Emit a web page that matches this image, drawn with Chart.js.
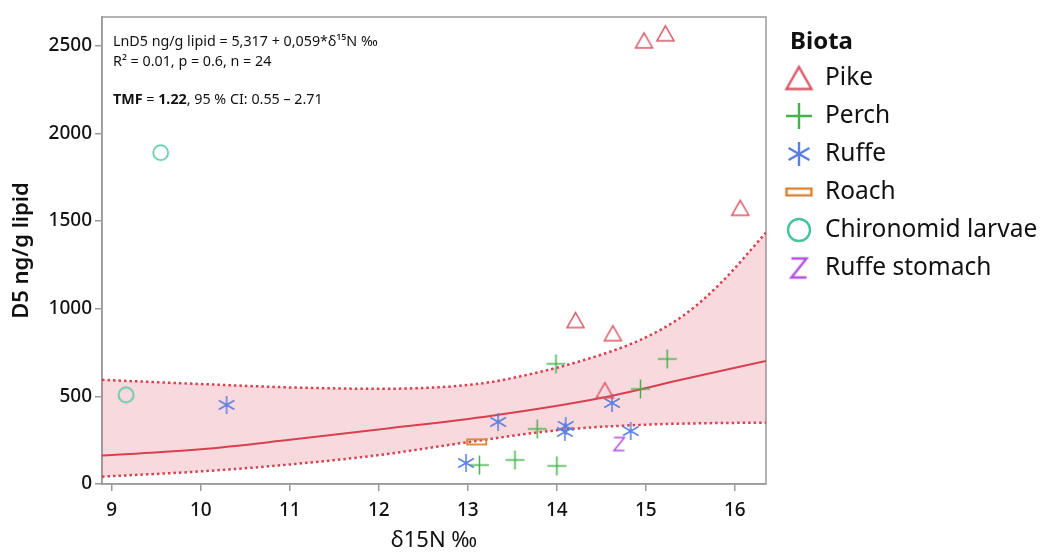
<!DOCTYPE html>
<html>
<head>
<meta charset="utf-8">
<script src="https://cdn.jsdelivr.net/npm/chart.js@4.4.1/dist/chart.umd.min.js"></script>
<style>
    html, body { margin: 0; padding: 0; background: #fff; }
    #wrap { width: 1046px; height: 554px; }
</style>
</head>
<body>
<div id="wrap"><canvas id="chart" width="1046" height="554"></canvas></div>
<script>
// Values
const pikeX = [14.98, 15.22, 16.06, 14.21, 14.63, 14.54];
const pikeY = [2530, 2570, 1575, 935, 860, 535];
const perchX = [13.99, 15.24, 14.94, 13.78, 13.13, 13.53, 14.00];
const perchY = [685, 713, 542, 314, 108, 137, 103];
const ruffeX = [10.29, 13.34, 14.10, 14.09, 14.62, 14.83, 12.98];
const ruffeY = [451, 354, 331, 297, 462, 302, 120];
const roachX = [13.10];
const roachY = [240];
const chiroX = [9.55, 9.16];
const chiroY = [1889, 508];
const stomachX = [14.70];
const stomachY = [228];

// regression curve and 95 % band, read at a few x positions
const fitX = [8.89, 10, 11.0, 12.12, 13.25, 14.48, 15.42, 16.35];
const fitY = [162, 198, 252, 318, 388, 489, 597, 702];
const upperX = [8.89, 10, 11.06, 12.0, 13.13, 13.73, 14.26, 14.93, 15.42, 15.83, 16.35];
const upperY = [594, 570, 550, 543, 572, 630, 700, 820, 960, 1140, 1433];
const lowerX = [8.89, 10, 11.06, 12.0, 13.02, 14.03, 14.93, 15.6, 16.35];
const lowerY = [42, 72, 114, 165, 240, 308, 337, 346, 350];

const xTicks = [9, 10, 11, 12, 13, 14, 15, 16];
const yTicks = [0, 500, 1000, 1500, 2000, 2500];

const FONT = "'Noto Sans', 'DejaVu Sans', sans-serif";
const INK = '#111';
const AXIS = '#9a9a9a';
const RED = '#d9404f';

function pts(xs, ys) {
    return xs.map((x, i) => ({ x: x, y: ys[i] }));
}

// Draw one marker glyph into a small canvas (used as a pointStyle image)
function marker(kind, color, size, lw) {
    const pad = Math.ceil(lw) + 1;
    const c = document.createElement('canvas');
    c.width = c.height = size + pad * 2;
    const g = c.getContext('2d');
    const m = c.width / 2;
    const r = size / 2;
    g.strokeStyle = color;
    g.lineWidth = lw;
    g.beginPath();
    if (kind === 'triangle') {
        const hh = r * 0.88;
        g.moveTo(m, m - hh);
        g.lineTo(m + r, m + hh);
        g.lineTo(m - r, m + hh);
        g.closePath();
    } else if (kind === 'plus') {
        g.moveTo(m - r, m); g.lineTo(m + r, m);
        g.moveTo(m, m - r); g.lineTo(m, m + r);
    } else if (kind === 'asterisk') {
        [90, 30, -30].forEach(a => {
            const dx = r * Math.cos(a * Math.PI / 180);
            const dy = r * Math.sin(a * Math.PI / 180);
            g.moveTo(m - dx, m - dy);
            g.lineTo(m + dx, m + dy);
        });
    } else if (kind === 'rect') {
        g.rect(m - r, m - r * 0.27, 2 * r, r * 0.54);
    } else if (kind === 'circle') {
        g.arc(m, m, r, 0, Math.PI * 2);
    } else if (kind === 'z') {
        const zr = r * 0.8;
        g.moveTo(m - zr, m - r); g.lineTo(m + zr, m - r);
        g.lineTo(m - zr, m + r); g.lineTo(m + zr, m + r);
    }
    g.stroke();
    return c;
}

const groups = [
    { label: 'Pike', kind: 'triangle', color: '#dc5563', size: 17, big: 25, xs: pikeX, ys: pikeY },
    { label: 'Perch', kind: 'plus', color: '#45b04c', size: 19, big: 26, xs: perchX, ys: perchY },
    { label: 'Ruffe', kind: 'asterisk', color: '#5a7fe0', size: 18, big: 24, xs: ruffeX, ys: ruffeY },
    { label: 'Roach', kind: 'rect', color: '#d8802f', size: 19, big: 25, xs: roachX, ys: roachY },
    { label: 'Chironomid larvae', kind: 'circle', color: '#45c49a', size: 15, big: 22, xs: chiroX, ys: chiroY },
    { label: 'Ruffe stomach', kind: 'z', color: '#b24ee0', size: 13, big: 19, xs: stomachX, ys: stomachY }
];

groups.forEach(gr => {
    gr.img = marker(gr.kind, gr.color, gr.size, gr.kind === 'rect' ? 1.8 : 1.5);
    gr.legendImg = marker(gr.kind, gr.color, gr.big, 2.4);
});

const scatterSets = groups.map(gr => ({
    label: gr.label,
    data: pts(gr.xs, gr.ys),
    pointStyle: gr.img,
    showLine: false
}));

const curveSets = [
    {
        label: 'fit',
        type: 'line',
        data: pts(fitX, fitY),
        borderColor: RED,
        borderWidth: 2,
        pointRadius: 0,
        cubicInterpolationMode: 'monotone',
        fill: false
    },
    {
        label: 'upper',
        type: 'line',
        data: pts(upperX, upperY),
        borderColor: RED,
        borderWidth: 2.5,
        borderDash: [2.5, 3],
        pointRadius: 0,
        cubicInterpolationMode: 'monotone',
        backgroundColor: 'rgba(220, 70, 90, 0.2)',
        fill: groups.length + 2
    },
    {
        label: 'lower',
        type: 'line',
        data: pts(lowerX, lowerY),
        borderColor: RED,
        borderWidth: 2.5,
        borderDash: [2.5, 3],
        pointRadius: 0,
        cubicInterpolationMode: 'monotone',
        fill: false
    }
];

// Box round the plot area
const framePlugin = {
    id: 'frame',
    beforeDatasetsDraw(chart) {
        const a = chart.chartArea;
        const ctx = chart.ctx;
        ctx.save();
        ctx.strokeStyle = AXIS;
        ctx.lineWidth = 1.5;
        ctx.strokeRect(a.left, a.top, a.right - a.left, a.bottom - a.top);
        ctx.restore();
    }
};

// Regression note in the top-left corner
const notePlugin = {
    id: 'note',
    afterDraw(chart) {
        const ctx = chart.ctx;
        const x0 = 113;
        const size = '14.3px ';
        ctx.save();
        ctx.fillStyle = '#111';
        ctx.textBaseline = 'middle';
        ctx.font = size + FONT;
        ctx.fillText('LnD5 ng/g lipid = 5,317 + 0,059*δ¹⁵N ‰', x0, 42);
        ctx.fillText('R² = 0.01, p = 0.6, n = 24', x0, 62);
        const parts = [
            ['TMF', true], [' = ', false], ['1.22', true], [', 95 % CI: 0.55 – 2.71', false]
        ];
        let x = x0;
        parts.forEach(([t, bold]) => {
            ctx.font = (bold ? 'bold ' : '') + size + FONT;
            ctx.fillText(t, x, 100);
            x += ctx.measureText(t).width;
        });
        ctx.restore();
    }
};

// Legend on the right, title "Biota"
const legendPlugin = {
    id: 'biotaLegend',
    afterDraw(chart) {
        const ctx = chart.ctx;
        ctx.save();
        ctx.fillStyle = INK;
        ctx.textBaseline = 'middle';
        ctx.font = 'bold 24px ' + FONT;
        ctx.fillText('Biota', 790, 42);
        ctx.font = '24.5px ' + FONT;
        groups.forEach((gr, i) => {
            const cy = 78 + i * 38;
            const im = gr.legendImg;
            ctx.drawImage(im, 799 - im.width / 2, cy - im.height / 2);
            ctx.fillText(gr.label, 825, cy);
        });
        ctx.restore();
    }
};

new Chart(document.getElementById('chart'), {
    type: 'scatter',
    data: { datasets: scatterSets.concat(curveSets) },
    options: {
        responsive: false,
        animation: false,
        events: [],
        layout: { padding: { top: 17, right: 280, left: 0, bottom: 0 } },
        plugins: {
            legend: { display: false },
            tooltip: { enabled: false }
        },
        scales: {
            x: {
                type: 'linear',
                min: 8.89,
                max: 16.35,
                afterBuildTicks: s => { s.ticks = xTicks.map(v => ({ value: v })); },
                afterFit: s => { s.height = 70; },
                grid: { drawOnChartArea: false, tickLength: 7, color: AXIS, lineWidth: 1.5 },
                border: { color: AXIS, width: 1.5 },
                ticks: { font: { family: FONT, size: 19, weight: '500' }, color: INK, padding: 8, maxRotation: 0, autoSkip: false },
                title: { display: true, text: 'δ15N ‰', font: { family: FONT, size: 22 }, color: INK, padding: { top: 0, bottom: 0 } }
            },
            y: {
                type: 'linear',
                min: 0,
                max: 2663,
                afterBuildTicks: s => { s.ticks = yTicks.map(v => ({ value: v })); },
                afterFit: s => { s.width = 102; },
                grid: { drawOnChartArea: false, tickLength: 7, color: AXIS, lineWidth: 1.5 },
                border: { color: AXIS, width: 1.5 },
                ticks: { font: { family: FONT, size: 19, weight: '500' }, color: INK, padding: 3, callback: v => String(v) },
                title: { display: true, text: 'D5 ng/g lipid', font: { family: FONT, size: 22, weight: '600' }, color: INK, padding: { top: 9, bottom: 0 } }
            }
        }
    },
    plugins: [framePlugin, notePlugin, legendPlugin]
});
</script>
</body>
</html>
